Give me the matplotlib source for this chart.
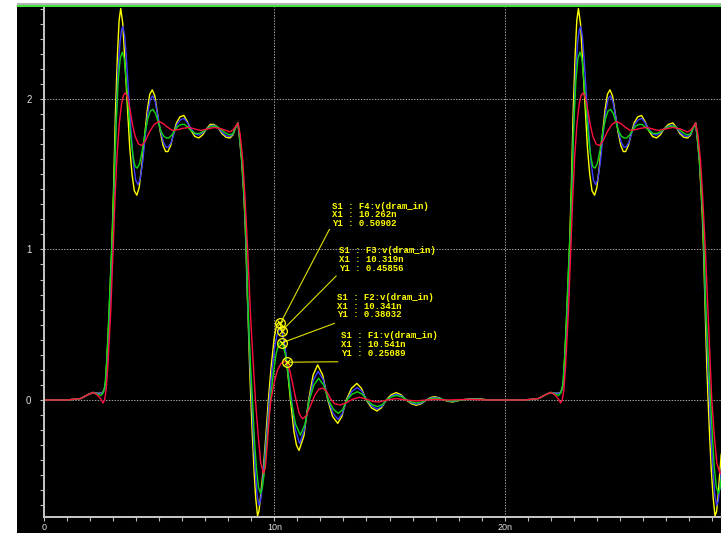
import matplotlib
matplotlib.use('Agg')
import matplotlib.pyplot as plt
from matplotlib.patches import Rectangle
from matplotlib.ticker import MultipleLocator

# v(dram_in) for the four probe points, (time in ns, volts)
f4_wave = [
    (0.0, 0.0), (1.0, 0.0), (1.6, 0.01), (1.9, 0.035), (2.13, 0.05), (2.3, 0.045), (2.52, 0.045),
    (2.62, 0.07), (2.68, 0.13), (2.75, 0.33), (2.82, 0.55), (2.89, 0.82), (2.94, 1.0), (3.02, 1.4),
    (3.10, 1.9), (3.19, 2.3), (3.26, 2.52), (3.33, 2.60), (3.42, 2.50), (3.52, 2.22), (3.62, 1.95),
    (3.72, 1.68), (3.82, 1.50), (3.92, 1.39), (4.03, 1.36), (4.13, 1.41), (4.24, 1.55), (4.36, 1.74),
    (4.48, 1.92), (4.59, 2.03), (4.70, 2.06), (4.81, 2.02), (4.93, 1.90), (5.05, 1.78), (5.17, 1.69),
    (5.28, 1.65), (5.38, 1.65), (5.50, 1.69), (5.62, 1.77), (5.75, 1.84), (5.90, 1.88), (6.07, 1.89),
    (6.22, 1.85), (6.38, 1.79), (6.55, 1.75), (6.72, 1.74), (6.88, 1.76), (7.05, 1.80), (7.22, 1.83),
    (7.38, 1.83), (7.55, 1.81), (7.72, 1.77), (7.90, 1.745), (8.07, 1.74), (8.20, 1.76), (8.32, 1.81),
    (8.42, 1.84), (8.50, 1.72), (8.58, 1.59), (8.66, 1.40), (8.72, 1.22), (8.77, 1.0), (8.82, 0.72),
    (8.88, 0.45), (8.93, 0.20), (8.98, 0.0), (9.05, -0.25), (9.12, -0.47), (9.19, -0.65), (9.27, -0.77),
    (9.33, -0.74), (9.39, -0.66), (9.53, -0.44), (9.64, -0.22), (9.74, 0.0), (9.86, 0.22), (10.0, 0.42),
    (10.1, 0.50), (10.2, 0.515), (10.262, 0.50902), (10.42, 0.39), (10.55, 0.23), (10.70, 0.0),
    (10.85, -0.21), (10.96, -0.30), (11.07, -0.335), (11.28, -0.24), (11.49, 0.0), (11.68, 0.165),
    (11.88, 0.233), (12.10, 0.165), (12.32, 0.0), (12.53, -0.11), (12.75, -0.155), (12.93, -0.11),
    (13.12, 0.0), (13.35, 0.078), (13.58, 0.11), (13.78, 0.078), (13.99, 0.0), (14.22, -0.052),
    (14.45, -0.073), (14.65, -0.052), (14.86, 0.0), (15.07, 0.035), (15.29, 0.049), (15.50, 0.035),
    (15.73, 0.0), (15.95, -0.025), (16.16, -0.035), (16.38, -0.025), (16.60, 0.0), (16.78, 0.016),
    (16.96, 0.022), (17.15, 0.015), (17.35, 0.0), (17.55, -0.009), (17.75, -0.013), (18.10, 0.0),
    (18.50, 0.008), (18.90, 0.008), (19.30, 0.0),
    (20.87, 0.0), (21.47, 0.01), (21.77, 0.035), (22.00, 0.05), (22.17, 0.045), (22.39, 0.045),
    (22.49, 0.07), (22.55, 0.13), (22.62, 0.33), (22.69, 0.55), (22.76, 0.82), (22.81, 1.0), (22.89, 1.4),
    (22.97, 1.9), (23.06, 2.3), (23.13, 2.52), (23.20, 2.60), (23.29, 2.50), (23.39, 2.22), (23.49, 1.95),
    (23.59, 1.68), (23.69, 1.50), (23.79, 1.39), (23.90, 1.36), (24.00, 1.41), (24.11, 1.55), (24.23, 1.74),
    (24.35, 1.92), (24.46, 2.03), (24.57, 2.06), (24.68, 2.02), (24.80, 1.90), (24.92, 1.78), (25.04, 1.69),
    (25.15, 1.65), (25.25, 1.65), (25.37, 1.69), (25.49, 1.77), (25.62, 1.84), (25.77, 1.88), (25.94, 1.89),
    (26.09, 1.85), (26.25, 1.79), (26.42, 1.75), (26.59, 1.74), (26.75, 1.76), (26.92, 1.80), (27.10, 1.83),
    (27.30, 1.84), (27.45, 1.81), (27.60, 1.77), (27.77, 1.745), (27.94, 1.74), (28.07, 1.76), (28.19, 1.81),
    (28.29, 1.84), (28.37, 1.72), (28.45, 1.59), (28.52, 1.40), (28.58, 1.22), (28.63, 1.0), (28.68, 0.72),
    (28.73, 0.45), (28.78, 0.20), (28.83, 0.0), (28.90, -0.25), (28.97, -0.47), (29.05, -0.65),
    (29.13, -0.77), (29.20, -0.74), (29.27, -0.62), (29.40, -0.36),
]

f3_wave = [
    (0.0, 0.0), (1.0, 0.0), (1.6, 0.01), (1.9, 0.035), (2.13, 0.05), (2.3, 0.045), (2.52, 0.045),
    (2.63, 0.07), (2.70, 0.14), (2.77, 0.33), (2.84, 0.55), (2.91, 0.82), (2.96, 1.0), (3.04, 1.38),
    (3.12, 1.82), (3.21, 2.18), (3.30, 2.38), (3.37, 2.46), (3.43, 2.48), (3.50, 2.42), (3.58, 2.26),
    (3.68, 2.02), (3.78, 1.78), (3.88, 1.58), (3.98, 1.46), (4.08, 1.43), (4.18, 1.47), (4.29, 1.59),
    (4.40, 1.76), (4.51, 1.91), (4.62, 2.0), (4.72, 2.02), (4.83, 1.98), (4.95, 1.88), (5.07, 1.78),
    (5.19, 1.71), (5.30, 1.68), (5.40, 1.68), (5.52, 1.71), (5.64, 1.77), (5.77, 1.83), (5.92, 1.86),
    (6.08, 1.87), (6.23, 1.84), (6.39, 1.80), (6.56, 1.765), (6.73, 1.76), (6.89, 1.775), (7.06, 1.80),
    (7.23, 1.82), (7.38, 1.825), (7.55, 1.81), (7.72, 1.78), (7.90, 1.755), (8.07, 1.75), (8.20, 1.765),
    (8.32, 1.81), (8.42, 1.84), (8.50, 1.73), (8.59, 1.59), (8.67, 1.40), (8.73, 1.22), (8.78, 1.0),
    (8.83, 0.70), (8.89, 0.45), (8.95, 0.22), (9.02, 0.0), (9.09, -0.25), (9.17, -0.47), (9.25, -0.63),
    (9.33, -0.70), (9.40, -0.67), (9.47, -0.58), (9.57, -0.40), (9.68, -0.20), (9.78, 0.0), (9.90, 0.20),
    (10.03, 0.37), (10.15, 0.455), (10.25, 0.47), (10.319, 0.45856), (10.45, 0.37), (10.57, 0.22),
    (10.68, 0.08), (10.75, 0.0), (10.90, -0.19), (11.10, -0.29), (11.30, -0.20), (11.51, 0.0),
    (11.70, 0.135), (11.90, 0.19), (12.12, 0.135), (12.34, 0.0), (12.55, -0.09), (12.77, -0.128),
    (12.95, -0.09), (13.14, 0.0), (13.37, 0.058), (13.60, 0.082), (13.80, 0.058), (14.01, 0.0),
    (14.24, -0.042), (14.47, -0.06), (14.67, -0.042), (14.88, 0.0), (15.09, 0.027), (15.30, 0.038),
    (15.52, 0.027), (15.75, 0.0), (15.97, -0.02), (16.17, -0.028), (16.39, -0.02), (16.61, 0.0),
    (16.79, 0.012), (16.97, 0.017), (17.16, 0.012), (17.37, 0.0), (17.57, -0.007), (17.77, -0.01),
    (18.10, 0.0), (18.50, 0.006), (18.90, 0.006), (19.30, 0.0),
    (20.87, 0.0), (21.47, 0.01), (21.77, 0.035), (22.00, 0.05), (22.17, 0.045), (22.39, 0.045),
    (22.50, 0.07), (22.57, 0.14), (22.64, 0.33), (22.71, 0.55), (22.78, 0.82), (22.83, 1.0), (22.91, 1.38),
    (22.99, 1.82), (23.08, 2.18), (23.17, 2.38), (23.24, 2.46), (23.30, 2.48), (23.37, 2.42), (23.45, 2.26),
    (23.55, 2.02), (23.65, 1.78), (23.75, 1.58), (23.85, 1.46), (23.95, 1.43), (24.05, 1.47), (24.16, 1.59),
    (24.27, 1.76), (24.38, 1.91), (24.49, 2.0), (24.59, 2.02), (24.70, 1.98), (24.82, 1.88), (24.94, 1.78),
    (25.06, 1.71), (25.17, 1.68), (25.27, 1.68), (25.39, 1.71), (25.51, 1.77), (25.64, 1.83), (25.79, 1.86),
    (25.95, 1.87), (26.10, 1.84), (26.26, 1.80), (26.43, 1.765), (26.60, 1.76), (26.76, 1.775), (26.93, 1.80),
    (27.10, 1.82), (27.30, 1.825), (27.45, 1.81), (27.60, 1.78), (27.78, 1.755), (27.94, 1.75),
    (28.07, 1.765), (28.19, 1.81), (28.29, 1.84), (28.37, 1.73), (28.46, 1.59), (28.54, 1.40),
    (28.60, 1.22), (28.65, 1.0), (28.70, 0.70), (28.76, 0.45), (28.82, 0.22), (28.89, 0.0),
    (28.96, -0.25), (29.04, -0.47), (29.12, -0.63), (29.20, -0.70), (29.27, -0.67), (29.34, -0.58),
    (29.44, -0.40),
]

f2_wave = [
    (0.0, 0.0), (1.0, 0.0), (1.6, 0.01), (1.9, 0.035), (2.13, 0.05), (2.3, 0.04), (2.47, 0.03),
    (2.58, 0.05), (2.65, 0.10), (2.72, 0.25), (2.79, 0.47), (2.86, 0.73), (2.92, 0.95), (2.97, 1.1),
    (3.05, 1.45), (3.13, 1.82), (3.22, 2.12), (3.31, 2.27), (3.40, 2.31), (3.48, 2.27), (3.57, 2.12),
    (3.67, 1.92), (3.77, 1.74), (3.87, 1.61), (3.96, 1.55), (4.05, 1.54), (4.15, 1.57), (4.27, 1.66),
    (4.39, 1.78), (4.51, 1.87), (4.62, 1.92), (4.73, 1.93), (4.85, 1.90), (4.97, 1.84), (5.09, 1.78),
    (5.21, 1.75), (5.32, 1.74), (5.42, 1.74), (5.55, 1.76), (5.68, 1.79), (5.82, 1.82), (5.96, 1.83),
    (6.10, 1.83), (6.25, 1.81), (6.42, 1.785), (6.58, 1.77), (6.75, 1.77), (6.92, 1.785), (7.08, 1.80),
    (7.24, 1.815), (7.40, 1.82), (7.57, 1.81), (7.74, 1.79), (7.91, 1.77), (8.07, 1.76), (8.20, 1.77),
    (8.32, 1.81), (8.42, 1.84), (8.50, 1.74), (8.59, 1.59), (8.67, 1.40), (8.73, 1.22), (8.79, 1.0),
    (8.84, 0.70), (8.90, 0.45), (8.97, 0.22), (9.05, 0.0), (9.13, -0.25), (9.22, -0.45), (9.31, -0.58),
    (9.40, -0.62), (9.47, -0.59), (9.55, -0.50), (9.64, -0.33), (9.74, -0.15), (9.83, 0.0), (9.95, 0.17),
    (10.08, 0.31), (10.20, 0.375), (10.30, 0.385), (10.341, 0.38032), (10.47, 0.31), (10.60, 0.17),
    (10.72, 0.0), (10.92, -0.16), (11.13, -0.233), (11.33, -0.16), (11.52, 0.0), (11.72, 0.10),
    (11.92, 0.144), (12.14, 0.10), (12.35, 0.0), (12.57, -0.063), (12.78, -0.089), (12.97, -0.063),
    (13.15, 0.0), (13.38, 0.039), (13.60, 0.055), (13.81, 0.039), (14.02, 0.0), (14.25, -0.031),
    (14.47, -0.044), (14.68, -0.031), (14.88, 0.0), (15.09, 0.021), (15.30, 0.03), (15.53, 0.021),
    (15.75, 0.0), (15.97, -0.014), (16.18, -0.02), (16.40, -0.014), (16.60, 0.0), (16.79, 0.008),
    (16.98, 0.012), (17.18, 0.008), (17.40, 0.0), (17.60, -0.006), (17.80, -0.007), (18.10, 0.0),
    (18.50, 0.005), (18.90, 0.005), (19.30, 0.0),
    (20.87, 0.0), (21.47, 0.01), (21.77, 0.035), (22.00, 0.05), (22.17, 0.04), (22.34, 0.03),
    (22.45, 0.05), (22.52, 0.10), (22.59, 0.25), (22.66, 0.47), (22.73, 0.73), (22.79, 0.95), (22.84, 1.1),
    (22.92, 1.45), (23.00, 1.82), (23.09, 2.12), (23.18, 2.27), (23.27, 2.31), (23.35, 2.27), (23.44, 2.12),
    (23.54, 1.92), (23.64, 1.74), (23.74, 1.61), (23.83, 1.55), (23.92, 1.54), (24.02, 1.57), (24.14, 1.66),
    (24.26, 1.78), (24.38, 1.87), (24.49, 1.92), (24.60, 1.93), (24.72, 1.90), (24.84, 1.84), (24.96, 1.78),
    (25.08, 1.75), (25.19, 1.74), (25.29, 1.74), (25.42, 1.76), (25.55, 1.79), (25.69, 1.82), (25.83, 1.83),
    (25.97, 1.83), (26.12, 1.81), (26.29, 1.785), (26.45, 1.77), (26.62, 1.77), (26.79, 1.785),
    (26.95, 1.80), (27.11, 1.815), (27.30, 1.82), (27.46, 1.81), (27.62, 1.79), (27.79, 1.77),
    (27.94, 1.76), (28.07, 1.77), (28.19, 1.81), (28.29, 1.84), (28.37, 1.74), (28.46, 1.59),
    (28.54, 1.40), (28.60, 1.22), (28.66, 1.0), (28.71, 0.70), (28.78, 0.45), (28.86, 0.22),
    (28.94, 0.0), (29.02, -0.25), (29.10, -0.45), (29.19, -0.58), (29.27, -0.62), (29.34, -0.59),
    (29.42, -0.50),
]

f1_wave = [
    (0.0, 0.0), (1.0, 0.0), (1.6, 0.01), (1.9, 0.035), (2.13, 0.05), (2.3, 0.035), (2.45, 0.01),
    (2.56, -0.02), (2.63, 0.0), (2.70, 0.07), (2.77, 0.22), (2.84, 0.42), (2.90, 0.60), (2.95, 0.80),
    (3.00, 1.0), (3.08, 1.33), (3.17, 1.62), (3.27, 1.84), (3.37, 1.97), (3.45, 2.025), (3.54, 2.04),
    (3.63, 2.01), (3.73, 1.93), (3.84, 1.83), (3.96, 1.75), (4.10, 1.70), (4.24, 1.69), (4.40, 1.72),
    (4.58, 1.78), (4.78, 1.83), (4.99, 1.85), (5.18, 1.835), (5.38, 1.81), (5.58, 1.79), (5.80, 1.795),
    (6.05, 1.805), (6.30, 1.81), (6.55, 1.80), (6.80, 1.79), (7.10, 1.80), (7.40, 1.81), (7.72, 1.80),
    (8.07, 1.78), (8.22, 1.795), (8.33, 1.82), (8.42, 1.84), (8.52, 1.76), (8.63, 1.59), (8.72, 1.36),
    (8.78, 1.18), (8.84, 1.0), (8.91, 0.75), (8.97, 0.55), (9.08, 0.25), (9.18, 0.0), (9.29, -0.22),
    (9.41, -0.42), (9.53, -0.487), (9.61, -0.45), (9.69, -0.30), (9.77, -0.13), (9.85, 0.0), (10.0, 0.12),
    (10.14, 0.20), (10.30, 0.245), (10.45, 0.257), (10.541, 0.25089), (10.68, 0.19), (10.82, 0.09),
    (10.94, 0.0), (11.08, -0.09), (11.22, -0.125), (11.38, -0.105), (11.55, -0.045), (11.75, 0.03),
    (11.92, 0.07), (12.10, 0.08), (12.28, 0.055), (12.45, 0.005), (12.62, -0.025), (12.85, -0.033),
    (13.10, -0.02), (13.40, 0.005), (13.70, 0.018), (14.00, 0.005), (14.30, -0.01), (14.55, -0.013),
    (14.90, 0.0), (15.30, 0.01), (15.70, 0.0), (16.15, -0.006), (16.60, 0.0), (17.00, 0.004),
    (17.50, 0.0), (18.50, 0.004), (19.30, 0.0),
    (20.87, 0.0), (21.47, 0.01), (21.77, 0.035), (22.00, 0.05), (22.17, 0.035), (22.32, 0.01),
    (22.43, -0.02), (22.50, 0.0), (22.57, 0.07), (22.64, 0.22), (22.71, 0.42), (22.77, 0.60), (22.82, 0.80),
    (22.87, 1.0), (22.95, 1.33), (23.04, 1.62), (23.14, 1.84), (23.24, 1.97), (23.32, 2.025), (23.41, 2.04),
    (23.50, 2.01), (23.60, 1.93), (23.71, 1.83), (23.83, 1.75), (23.97, 1.70), (24.11, 1.69), (24.27, 1.72),
    (24.45, 1.78), (24.65, 1.83), (24.86, 1.85), (25.05, 1.835), (25.25, 1.81), (25.45, 1.79),
    (25.67, 1.795), (25.92, 1.805), (26.17, 1.81), (26.42, 1.80), (26.67, 1.79), (26.97, 1.80),
    (27.30, 1.81), (27.62, 1.80), (27.94, 1.78), (28.09, 1.795), (28.20, 1.82), (28.29, 1.84),
    (28.39, 1.76), (28.50, 1.59), (28.59, 1.36), (28.65, 1.18), (28.71, 1.0), (28.78, 0.75),
    (28.84, 0.55), (28.92, 0.25), (28.99, 0.0), (29.09, -0.22), (29.21, -0.42), (29.35, -0.487),
    (29.45, -0.46),
]

# cursor readouts S1 on each trace
cursor_traces = ["F4", "F3", "F2", "F1"]
cursor_x = [10.262, 10.319, 10.341, 10.541]
cursor_y = [0.50902, 0.45856, 0.38032, 0.25089]

x_ticks = [0, 10, 20]
x_tick_labels = ["0", "10n", "20n"]
y_ticks = [0, 1, 2]
y_tick_labels = ["0", "1", "2"]

W, H = 727, 533
plt.rcParams['font.family'] = ['Liberation Sans', 'DejaVu Sans']

fig = plt.figure(figsize=(W / 100, H / 100), dpi=100)
fig.patch.set_facecolor('white')
# black window body with grey/green strip on top
fig.add_artist(Rectangle((17 / W, 0), 704 / W, 526 / H, transform=fig.transFigure,
                         facecolor='black', edgecolor='none', zorder=-10))
fig.add_artist(Rectangle((17 / W, 528 / H), 704 / W, 2.3 / H, transform=fig.transFigure,
                         facecolor='#b4b4b4', edgecolor='none'))
fig.add_artist(Rectangle((17 / W, 526 / H), 704 / W, 2 / H, transform=fig.transFigure,
                         facecolor='#3ee63e', edgecolor='none'))

ax = fig.add_axes([44 / W, 16 / H, 677 / W, 510 / H])
ax.set_facecolor('black')
ax.set_xlim(0, 29.39)
ax.set_ylim(-0.777, 2.61)

for s in ['top', 'right']:
    ax.spines[s].set_visible(False)
for s in ['left', 'bottom']:
    ax.spines[s].set_color('#c8c8c8')
    ax.spines[s].set_linewidth(1.4)

ax.set_xticks(x_ticks)
ax.set_xticklabels(x_tick_labels)
ax.set_yticks(y_ticks)
ax.set_yticklabels(y_tick_labels)
ax.xaxis.set_minor_locator(MultipleLocator(1))
ax.yaxis.set_minor_locator(MultipleLocator(0.1))
ax.tick_params(which='both', direction='out', length=3, width=0.8, color='#bcbcbc',
               labelcolor='#e0e0e0', labelsize=7)
ax.tick_params(axis='y', pad=6)
ax.tick_params(axis='x', pad=1, labelsize=6.5)

# dotted grid
for y in y_ticks:
    ax.axhline(y, color='#a0a0a0', lw=0.72, ls=(0, (1.4, 1.4)), zorder=1)
for x in x_ticks[1:]:
    ax.axvline(x, color='#a0a0a0', lw=0.72, ls=(0, (1.4, 1.4)), zorder=1)

waves = [f4_wave, f3_wave, f2_wave, f1_wave]
colors = ['#ffff00', '#3c3cff', '#10d810', '#ff1040']
for wave, c in zip(waves, colors):
    t, v = zip(*wave)
    ax.plot(t, v, color=c, lw=1.0, zorder=2)

# cursor markers, leader lines and readout text
leader_end = [(12.39, 1.133), (12.68, 0.823), (12.61, 0.509), (12.75, 0.254)]
text_pos = [(12.52, 1.288), (12.81, 0.991), (12.71, 0.682), (12.88, 0.427)]
for name, cx, cy, (lx, ly), (tx, ty) in zip(cursor_traces, cursor_x, cursor_y, leader_end, text_pos):
    ax.plot([cx, lx], [cy, ly], color='#e0e000', lw=0.8, zorder=4)
    ax.plot(cx, cy, 'o', mfc='none', mec='#ffff00', ms=7, mew=0.9, zorder=5)
    ax.plot(cx, cy, 'x', color='#ffff00', ms=5, mew=0.8, zorder=5)
    lines = ["S1 : %s:v(dram_in)" % name, "X1 : %.3fn" % cx, "Y1 : %.5f" % cy]
    for i, line in enumerate(lines):
        ax.annotate(line, (tx, ty), xytext=(0, -6.3 * i), textcoords='offset points',
                    color='#ffff00', fontsize=6.5, family='Liberation Mono',
                    fontweight='bold', va='center', ha='left', zorder=6)

fig.savefig('out.png', dpi=100, facecolor=fig.get_facecolor())
